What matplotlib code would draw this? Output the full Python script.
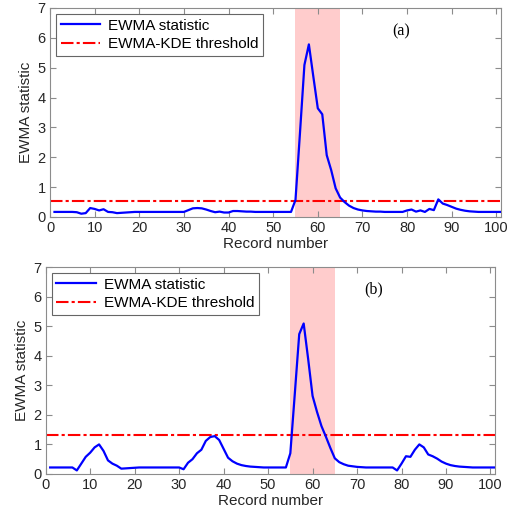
import numpy as np
import matplotlib.pyplot as plt

# record numbers 1..101
records = np.arange(1, 102)

# EWMA statistic, panel (a)
ewma_a = [0.17, 0.17, 0.17, 0.17, 0.17, 0.16, 0.11, 0.13, 0.30, 0.27,
          0.22, 0.26, 0.17, 0.16, 0.13, 0.14, 0.15, 0.16, 0.17, 0.17,
          0.17, 0.17, 0.17, 0.17, 0.17, 0.17, 0.17, 0.17, 0.17, 0.17,
          0.23, 0.29, 0.30, 0.29, 0.25, 0.20, 0.16, 0.18, 0.15, 0.15,
          0.20, 0.20, 0.19, 0.18, 0.18, 0.17, 0.17, 0.17, 0.17, 0.17,
          0.17, 0.17, 0.17, 0.17, 0.57, 2.80, 5.09, 5.78, 4.70, 3.64,
          3.44, 2.07, 1.57, 0.96, 0.65, 0.50, 0.38, 0.30, 0.25, 0.22,
          0.20, 0.19, 0.18, 0.18, 0.17, 0.17, 0.17, 0.17, 0.17, 0.22,
          0.25, 0.18, 0.22, 0.17, 0.27, 0.23, 0.59, 0.45, 0.40, 0.34,
          0.28, 0.24, 0.21, 0.19, 0.18, 0.17, 0.17, 0.17, 0.17, 0.17,
          0.17]

# EWMA statistic, panel (b)
ewma_b = [0.22, 0.22, 0.22, 0.22, 0.22, 0.22, 0.12, 0.35, 0.58, 0.72,
          0.90, 1.00, 0.78, 0.46, 0.35, 0.28, 0.18, 0.19, 0.20, 0.21,
          0.22, 0.22, 0.22, 0.22, 0.22, 0.22, 0.22, 0.22, 0.22, 0.22,
          0.16, 0.38, 0.50, 0.70, 0.82, 1.12, 1.25, 1.28, 1.15, 0.85,
          0.55, 0.43, 0.35, 0.30, 0.27, 0.25, 0.24, 0.23, 0.22, 0.22,
          0.22, 0.22, 0.22, 0.22, 0.70, 2.70, 4.73, 5.09, 3.90, 2.64,
          2.10, 1.62, 1.26, 0.88, 0.53, 0.40, 0.33, 0.28, 0.26, 0.24,
          0.23, 0.22, 0.22, 0.22, 0.22, 0.22, 0.22, 0.22, 0.12, 0.35,
          0.60, 0.58, 0.82, 1.00, 0.90, 0.66, 0.60, 0.52, 0.42, 0.35,
          0.30, 0.27, 0.25, 0.24, 0.23, 0.22, 0.22, 0.22, 0.22, 0.22,
          0.22]

thresholds = [0.53, 1.31]
fault_window = (55, 65)
panel_tags = ['(a)', '(b)']
tag_pos = [(0.78, 0.89), (0.73, 0.89)]

plt.rcParams['font.family'] = ['Liberation Sans', 'DejaVu Sans']

fig = plt.figure(figsize=(5.14, 5.2), dpi=100)
ax_a = fig.add_axes([0.0973, 0.5827, 0.877, 0.402])
ax_b = fig.add_axes([0.0889, 0.0885, 0.874, 0.398])

spine_col = '#8c8c8c'
for ax, y, thr, tag, tp in zip([ax_a, ax_b], [ewma_a, ewma_b], thresholds,
                               panel_tags, tag_pos):
    ax.axvspan(fault_window[0], fault_window[1], color='#ffcccc', lw=0, zorder=0)
    ax.plot(records, y, color='#0000ff', lw=1.6, label='EWMA statistic', zorder=3)
    ax.axhline(thr, color='#ff0000', lw=1.5, ls=(0, (6, 1.5, 1.5, 1.5)),
               label='EWMA-KDE threshold', zorder=2)
    ax.set_xlim(0, 101)
    ax.set_ylim(0, 7)
    ax.set_xticks(np.arange(0, 101, 10))
    ax.set_yticks(np.arange(0, 8, 1))
    ax.tick_params(direction='in', length=4, top=True, right=True,
                   color=spine_col, labelsize=10.5, labelcolor='#262626', pad=3)
    for s in ax.spines.values():
        s.set_color(spine_col)
        s.set_linewidth(0.8)
    ax.set_xlabel('Record number', fontsize=11, color='#262626', labelpad=1)
    ax.set_ylabel('EWMA statistic', fontsize=11, color='#262626', labelpad=3)
    leg = ax.legend(loc='upper left', fontsize=11, handlelength=2.6,
                    borderaxespad=0.4, fancybox=False, framealpha=1,
                    edgecolor='#666666', borderpad=0.3, labelspacing=0.3,
                    handletextpad=0.5)
    leg.get_frame().set_linewidth(0.8)
    ax.text(tp[0], tp[1], tag, transform=ax.transAxes, fontsize=11.5,
            family='Liberation Serif', ha='center', va='center')

plt.savefig('out.png', dpi=100)
